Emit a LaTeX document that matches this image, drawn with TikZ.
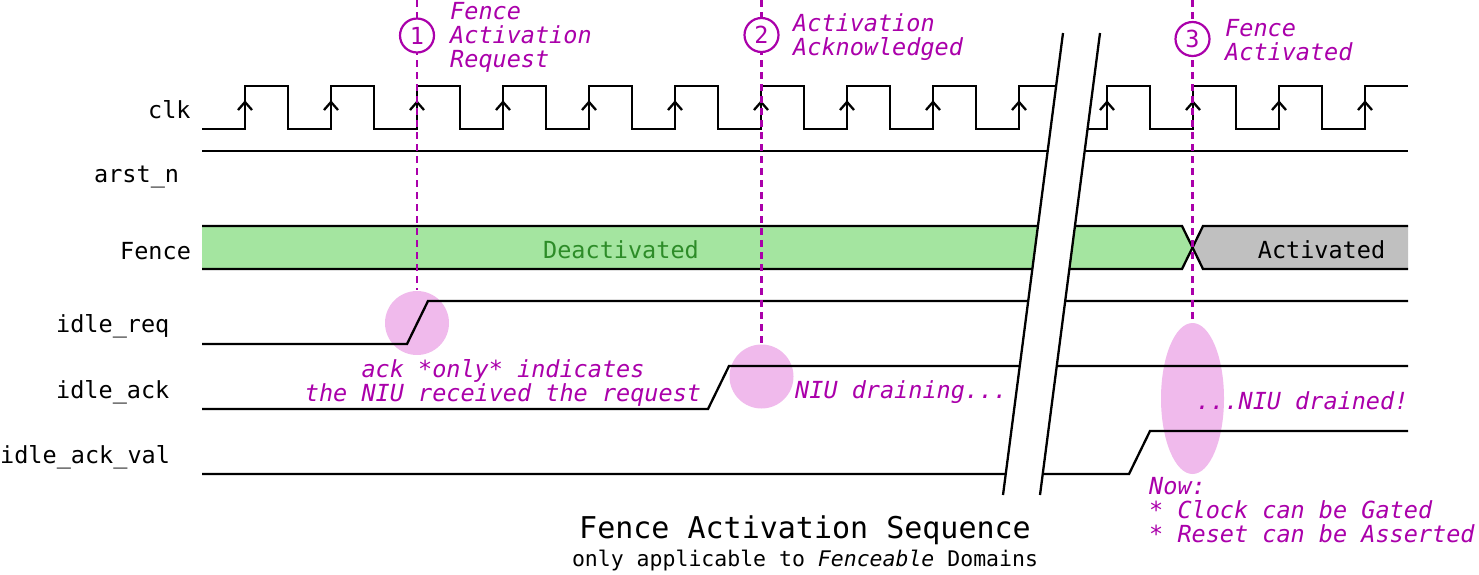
\documentclass[tikz,border=0pt]{standalone}
\usepackage{fontspec}
\setmainfont{DejaVu Sans Mono}
\definecolor{note}{RGB}{170,0,170}
\definecolor{hlpink}{RGB}{240,186,236}
\definecolor{fgreen}{RGB}{164,229,160}
\definecolor{dgreen}{RGB}{45,140,40}
\definecolor{fgray}{RGB}{192,192,192}
\newcommand\sigsize{\fontsize{23.5}{24}\selectfont}
\begin{document}
\begin{tikzpicture}[x=1pt,y=-1pt,
  wave/.style={draw=black,line width=2.3pt},
  guide/.style={draw=note,line width=2.3pt,dash pattern=on 7pt off 5pt},
  hl/.style={fill=hlpink,draw=none},
  lbl/.style={anchor=base west,inner sep=0pt,font=\sigsize,text=black},
  notetxt/.style={anchor=base west,inner sep=0pt,font=\sigsize\itshape,text=note,align=left},
  marker/.style={circle,draw=note,fill=white,line width=2.2pt,minimum size=34pt,inner sep=0pt,font=\sigsize,text=note},
]
\useasboundingbox (0,0) rectangle (1479,574);

% highlights
\fill[hl] (417,323) circle[radius=32];
\fill[hl] (761.5,376.5) circle[radius=32];
\fill[hl] (1192.5,398.5) ellipse[x radius=31.5,y radius=75.5];

% clk
\draw[wave] (202,129) \foreach \k in {0,...,9} { -- ({245+86*\k},129) -- ({245+86*\k},86) -- ({288+86*\k},86) -- ({288+86*\k},129) };
\draw[wave] (1080,129) \foreach \k in {0,...,2} { -- ({1107+86*\k},129) -- ({1107+86*\k},86) -- ({1150+86*\k},86) -- ({1150+86*\k},129) } -- (1365,129) -- (1365,86) -- (1408,86);
\foreach \x in {245,331,...,1019} { \draw[wave] ({\x-7},110) -- (\x,102) -- ({\x+7},110); }
\foreach \x in {1107,1193,1279,1365} { \draw[wave] ({\x-7},110) -- (\x,102) -- ({\x+7},110); }

% arst_n
\draw[wave] (202,151) -- (1408,151);

% Fence
\fill[fgreen] (202,226) -- (1182,226) -- (1192.5,247.5) -- (1182,269) -- (202,269) -- cycle;
\fill[fgray] (1408,226) -- (1203,226) -- (1192.5,247.5) -- (1203,269) -- (1408,269) -- cycle;
\draw[wave] (202,226) -- (1182,226) -- (1203,269) -- (1408,269);
\draw[wave] (202,269) -- (1182,269) -- (1203,226) -- (1408,226);

% idle_req / idle_ack / idle_ack_val
\draw[wave] (202,344) -- (407,344) -- (428,301) -- (1408,301);
\draw[wave] (202,409) -- (708,409) -- (729,366) -- (1408,366);
\draw[wave] (202,474) -- (1129,474) -- (1150,431) -- (1408,431);

% guides
\draw[guide] (417,0) -- (417,290);
\draw[guide] (761.5,0) -- (761.5,344);
\draw[guide] (1192.5,0) -- (1192.5,323);

% break
\fill[white] (1063,33) -- (1100,33) -- (1040,495) -- (1003,495) -- cycle;
\draw[wave] (1063,33) -- (1003,495);
\draw[wave] (1100,33) -- (1040,495);

% labels
\node[lbl] (lclk) at (148,118) {clk};
\node[lbl] (larst) at (94,182) {arst\_n};
\node[lbl] (lfence) at (120,259) {Fence};
\node[lbl] (lreq) at (56,332) {idle\_req};
\node[lbl] (lack) at (56,398) {idle\_ack};
\node[lbl] (lval) at (0,463) {idle\_ack\_val};
\node[anchor=base,inner sep=0pt,font=\sigsize,text=dgreen] (deact) at (621,258.5) {Deactivated};
\node[anchor=base,inner sep=0pt,font=\sigsize,text=black] (act) at (1321.5,258.5) {Activated};

% markers
\node[marker] (m1) at (417,35.5) {1};
\node[marker] (m2) at (761.5,35) {2};
\node[marker] (m3) at (1192.5,39) {3};

% notes (anchor = baseline of last line)
\node[notetxt] (n1) at (450,67.5) {Fence\\Activation\\Request};
\node[notetxt] (n2) at (793,55) {Activation\\Acknowledged};
\node[notetxt] (n3) at (1225,60) {Fence\\Activated};
\node[notetxt,anchor=base,align=center] (n4) at (503,401) {ack *only* indicates\\the NIU received the request};
\node[notetxt] (n5) at (795,398) {NIU draining...};
\node[notetxt] (n6) at (1196,409) {...NIU drained!};
\node[notetxt] (n7) at (1149,542) {Now:\\* Clock can be Gated\\* Reset can be Asserted};

% title
\node[anchor=base,inner sep=0pt,font=\fontsize{30}{30}\selectfont] (title) at (805,538) {Fence Activation Sequence};
\node[anchor=base,inner sep=0pt,font=\fontsize{21.5}{22}\selectfont] (sub) at (805,566) {only applicable to \textit{Fenceable} Domains};
\end{tikzpicture}
\end{document}
